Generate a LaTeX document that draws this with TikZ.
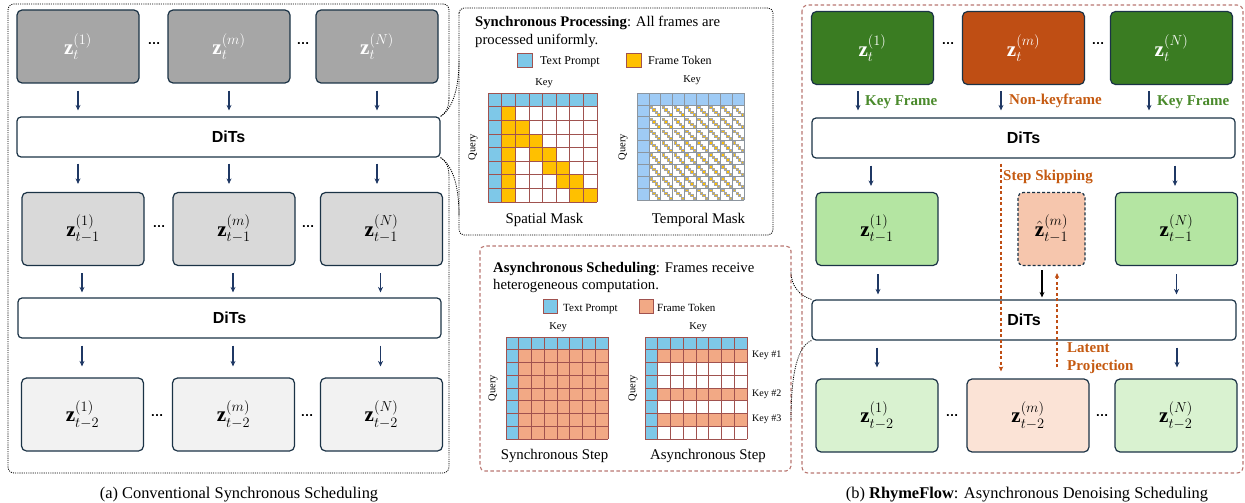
\documentclass[tikz,border=0pt]{standalone}
\usepackage{amsmath}
\usepackage{fontspec}
\setmainfont{Liberation Serif}
\newfontfamily\arialfont{Liberation Sans}
\usetikzlibrary{arrows.meta}
\definecolor{bd}{HTML}{1B3346}
\definecolor{navy}{HTML}{1F3864}
\definecolor{gA}{HTML}{A6A6A6}
\definecolor{gB}{HTML}{D9D9D9}
\definecolor{gC}{HTML}{F2F2F2}
\definecolor{dgreen}{HTML}{3A7C22}
\definecolor{dorange}{HTML}{BF4E14}
\definecolor{lgreen}{HTML}{B4E5A2}
\definecolor{llgreen}{HTML}{D9F2D0}
\definecolor{lorange}{HTML}{F6C6AD}
\definecolor{llorange}{HTML}{FBE3D6}
\definecolor{txgreen}{HTML}{4A8A2C}
\definecolor{txorange}{HTML}{C55A11}
\definecolor{sky}{HTML}{7EC8E8}
\definecolor{tblue}{HTML}{9FCBF5}
\definecolor{gold}{HTML}{FFC000}
\definecolor{salmon}{HTML}{F2A985}
\definecolor{cellb}{HTML}{A0524F}
\definecolor{tgrid}{HTML}{8C959E}
\definecolor{reddash}{HTML}{B97771}
\newcommand\zf{\fontsize{21}{24}\selectfont}
\newcommand\mygrid[5]{%
  \foreach \i in {0,...,#4} {%
    \draw[#5] ({#1+\i*#3},#2) -- ({#1+\i*#3},{#2+#4*#3});
    \draw[#5] (#1,{#2+\i*#3}) -- ({#1+#4*#3},{#2+\i*#3});
  }}
\newcommand\cellfill[6]{\fill[#6] ({#1+#4*#3},{#2+#5*#3}) rectangle ++(#3,#3);}
\tikzset{
  zframe/.style={draw=bd, line width=1.2pt, rounded corners=5pt, minimum width=122pt, minimum height=73pt, inner sep=0pt, font=\zf},
  dits/.style={draw=bd, line width=1.2pt, rounded corners=4pt, fill=white, minimum height=40pt, inner sep=0pt, font=\arialfont\bfseries\fontsize{16}{18}\selectfont},
  arr/.style={draw=navy, line width=1.1pt, -{Stealth[length=5.5pt,width=5pt]}},
  dotline/.style={draw=black, line width=0.8pt, dash pattern=on 1.1pt off 1.1pt},
  redbox/.style={draw=reddash, line width=1.1pt, dash pattern=on 3.5pt off 2.5pt},
  odash/.style={draw=dorange, line width=1.1pt, dash pattern=on 3pt off 2.5pt, -{Stealth[length=5pt,width=4.5pt]}},
  hdots/.style={font=\arialfont\bfseries\fontsize{13}{13}\selectfont, inner sep=0pt},
  lbl/.style={font=\bfseries\fontsize{15}{17}\selectfont, inner sep=0pt},
  ttl/.style={font=\fontsize{14.7}{17}\selectfont, inner sep=0pt, anchor=base west},
  leg/.style={font=\fontsize{12}{14}\selectfont, inner sep=0pt, anchor=base west},
  smalltxt/.style={font=\fontsize{10.5}{12}\selectfont, inner sep=0pt},
  masktxt/.style={font=\fontsize{14.8}{17}\selectfont, inner sep=0pt, anchor=base},
  captxt/.style={font=\fontsize{16.4}{18}\selectfont, inner sep=0pt, anchor=base},
}
\begin{document}
\begin{tikzpicture}[x=1pt,y=-1pt]
\useasboundingbox (0,0) rectangle (1245,503);

% ================= LEFT PANEL =================
\node[zframe, fill=gA, text=white] (L11) at (78,46.5) {$\mathbf{z}_{t}^{(1)}$};
\node[zframe, fill=gA, text=white] (L12) at (229,46.5) {$\mathbf{z}_{t}^{(m)}$};
\node[zframe, fill=gA, text=white] (L13) at (377,46.5) {$\mathbf{z}_{t}^{(N)}$};
\node[hdots] (Ld1) at (154,44) {…};
\node[hdots] (Ld2) at (303,44) {…};
\node[dits, minimum width=423pt] (LD1) at (228.5,137) {DiTs};
\node[zframe, fill=gB] (L21) at (83,229) {$\mathbf{z}_{t-1}^{(1)}$};
\node[zframe, fill=gB] (L22) at (234,229) {$\mathbf{z}_{t-1}^{(m)}$};
\node[zframe, fill=gB] (L23) at (381.5,229) {$\mathbf{z}_{t-1}^{(N)}$};
\node[hdots] (Ld3) at (159,227) {…};
\node[hdots] (Ld4) at (308,227) {…};
\node[dits, minimum width=423pt] (LD2) at (229.5,318) {DiTs};
\node[zframe, fill=gC] (L31) at (82.5,414.5) {$\mathbf{z}_{t-2}^{(1)}$};
\node[zframe, fill=gC] (L32) at (233.5,414.5) {$\mathbf{z}_{t-2}^{(m)}$};
\node[zframe, fill=gC] (L33) at (381.5,414.5) {$\mathbf{z}_{t-2}^{(N)}$};
\node[hdots] (Ld5) at (157,416) {…};
\node[hdots] (Ld6) at (307,416) {…};

\foreach \n in {1,2,3} {
  \draw[arr, shorten <=7pt, shorten >=6pt] (L1\n.south) -- (L1\n.south |- LD1.north);
  \draw[arr, shorten <=6pt, shorten >=8pt] (LD1.south -| L1\n.south) -- (L1\n.south |- L21.north);
  \draw[arr, shorten <=7pt, shorten >=5pt] (L2\n.south) ++(-1,0) coordinate (la\n) -- (la\n |- LD2.north);
  \draw[arr, shorten <=7pt, shorten >=11pt] (LD2.south -| la\n) -- (la\n |- L31.north);
}

% left panel outline with callouts
\draw[dotline, rounded corners=6pt] (449,98) -- (449,4) -- (8,4) -- (8,473) -- (449,473) -- (449,176);
\draw[dotline] (449,98) .. controls (449,110) and (444,114) .. (LD1.north east);
\draw[dotline] (LD1.north east) .. controls (454,108) and (459,85) .. (459,60);
\draw[dotline] (LD1.south east) .. controls (444,160) and (449,164) .. (449,176);
\draw[dotline] (LD1.south east) .. controls (454,166) and (459,190) .. (459,215);

\node[captxt] (capA) at (239,498) {(a) Conventional Synchronous Scheduling};

% ================= SYNC INSET =================
\draw[dotline, rounded corners=5pt] (459,8) rectangle (773,235);
\node[ttl] (st1) at (475,27) {\textbf{Synchronous Processing}: All frames are};
\node[ttl] (st2) at (475,45) {processed uniformly.};
\filldraw[fill=sky, draw=cellb, line width=0.6pt] (517,53) rectangle (532,67);
\node[leg] (sl1) at (540,65) {Text Prompt};
\filldraw[fill=gold, draw=cellb, line width=0.6pt] (626,53) rectangle (641,67);
\node[leg] (sl2) at (648,65) {Frame Token};
% spatial mask
\fill[white] (488,93) rectangle (597,200);
\foreach \c in {0,...,7} {\cellfill{488}{93}{13.625}{\c}{0}{sky}}
\foreach \r in {1,...,7} {\cellfill{488}{93}{13.625}{0}{\r}{sky}}
\foreach \r/\c in {1/1,2/1,2/2,3/1,3/2,3/3,4/1,4/3,4/4,5/1,5/4,5/5,6/1,6/5,6/6,7/1,7/6,7/7} {\cellfill{488}{93}{13.625}{\c}{\r}{gold}}
\mygrid{488}{93}{13.625}{8}{cellb, line width=0.7pt}
\node[smalltxt, anchor=base] (sk1) at (544,85) {Key};
\node[smalltxt, rotate=90] (sq1) at (473,147) {Query};
\node[masktxt] (sm1) at (544.5,223) {Spatial Mask};
% temporal mask
\fill[white] (637,93) rectangle (744,200);
\foreach \c in {0,...,8} {\cellfill{637}{93}{11.889}{\c}{0}{tblue}}
\foreach \r in {1,...,8} {\cellfill{637}{93}{11.889}{0}{\r}{tblue}}
\foreach \r in {1,...,8} {\foreach \c in {1,...,8} {\foreach \k in {0,...,3} {
  \filldraw[fill=gold, draw=black!35, line width=0.15pt] ({637+\c*11.889+1+\k*2.5},{93+\r*11.889+1+\k*2.5}) rectangle ++(2.4,2.4);
}}}
\mygrid{637}{93}{11.889}{9}{tgrid, line width=0.6pt}
\node[smalltxt, anchor=base] (sk2) at (692,82) {Key};
\node[smalltxt, rotate=90] (sq2) at (623,147) {Query};
\node[masktxt] (sm2) at (698.5,223) {Temporal Mask};

% ================= ASYNC INSET =================
\draw[redbox, rounded corners=5pt] (480,246) rectangle (791,471);
\node[ttl] (at1) at (493,272) {\textbf{Asynchronous Scheduling}: Frames receive};
\node[ttl] (at2) at (493,289) {heterogeneous computation.};
\filldraw[fill=sky, draw=cellb, line width=0.6pt] (543,299) rectangle (557,313);
\node[leg, font=\fontsize{11}{13}\selectfont] (al1) at (563,311) {Text Prompt};
\filldraw[fill=salmon, draw=cellb, line width=0.6pt] (639,299) rectangle (653,313);
\node[leg, font=\fontsize{11}{13}\selectfont] (al2) at (657,311) {Frame Token};
% synchronous step
\fill[salmon] (506,337) rectangle (608,439);
\foreach \c in {0,...,7} {\cellfill{506}{337}{12.75}{\c}{0}{sky}}
\foreach \r in {1,...,7} {\cellfill{506}{337}{12.75}{0}{\r}{sky}}
\mygrid{506}{337}{12.75}{8}{cellb, line width=0.7pt}
\node[smalltxt, anchor=base] (ak1) at (558,329) {Key};
\node[smalltxt, rotate=90] (aq1) at (493,388) {Query};
\node[masktxt] (as1) at (554.5,459) {Synchronous Step};
% asynchronous step
\fill[white] (645,337) rectangle (747,439);
\foreach \r in {1,4,6} {\foreach \c in {1,...,7} {\cellfill{645}{337}{12.75}{\c}{\r}{salmon}}}
\foreach \c in {0,...,7} {\cellfill{645}{337}{12.75}{\c}{0}{sky}}
\foreach \r in {1,...,7} {\cellfill{645}{337}{12.75}{0}{\r}{sky}}
\mygrid{645}{337}{12.75}{8}{cellb, line width=0.7pt}
\node[smalltxt, anchor=base] (ak2) at (698,329) {Key};
\node[smalltxt, rotate=90] (aq2) at (633,388) {Query};
\node[smalltxt, anchor=west, font=\fontsize{10}{12}\selectfont] (kk1) at (752,355) {Key \#1};
\node[smalltxt, anchor=west, font=\fontsize{10}{12}\selectfont] (kk2) at (752,394) {Key \#2};
\node[smalltxt, anchor=west, font=\fontsize{10}{12}\selectfont] (kk3) at (752,419) {Key \#3};
\node[masktxt] (as2) at (708,459) {Asynchronous Step};

% ================= RIGHT PANEL =================
\draw[redbox, rounded corners=6pt] (802,5) rectangle (1243,473);
\node[zframe, fill=dgreen, text=white] (R11) at (872.5,48) {$\mathbf{z}_{t}^{(1)}$};
\node[zframe, fill=dorange, text=white] (R12) at (1023.5,48) {$\mathbf{z}_{t}^{(m)}$};
\node[zframe, fill=dgreen, text=white] (R13) at (1171.5,48) {$\mathbf{z}_{t}^{(N)}$};
\node[hdots] (Rd1) at (948,44) {…};
\node[hdots] (Rd2) at (1098,44) {…};
\node[dits, minimum width=423pt] (RD1) at (1023.5,138) {DiTs};
\node[zframe, fill=lgreen] (R21) at (877,229) {$\mathbf{z}_{t-1}^{(1)}$};
\node[zframe, fill=lorange, minimum width=67pt, dash pattern=on 3pt off 2pt] (R22) at (1051.5,229) {$\hat{\mathbf{z}}_{t-1}^{(m)}$};
\node[zframe, fill=lgreen] (R23) at (1176.5,229) {$\mathbf{z}_{t-1}^{(N)}$};
\node[dits, minimum width=424pt] (RD2) at (1024,320) {DiTs};
\node[zframe, fill=llgreen] (R31) at (877,415.5) {$\mathbf{z}_{t-2}^{(1)}$};
\node[zframe, fill=llorange] (R32) at (1028,415.5) {$\mathbf{z}_{t-2}^{(m)}$};
\node[zframe, fill=llgreen] (R33) at (1176,415.5) {$\mathbf{z}_{t-2}^{(N)}$};
\node[hdots] (Rd3) at (952,416) {…};
\node[hdots] (Rd4) at (1102,416) {…};

% arrows top -> DiTs
\draw[arr, shorten <=6pt, shorten >=7pt] ([xshift=-14.5pt]R11.south) coordinate (ra1) -- (ra1 |- RD1.north);
\draw[arr, shorten <=6pt, shorten >=7pt] ([xshift=-22.5pt]R12.south) coordinate (ra2) -- (ra2 |- RD1.north);
\draw[arr, shorten <=6pt, shorten >=7pt] ([xshift=-22.5pt]R13.south) coordinate (ra3) -- (ra3 |- RD1.north);
\node[lbl, text=txgreen, anchor=west] (kf1) at (865,102) {Key Frame};
\node[lbl, text=txorange, anchor=west] (nkf) at (1009,101) {Non-keyframe};
\node[lbl, text=txgreen, anchor=west] (kf2) at (1157,102) {Key Frame};
% DiTs1 -> row 2
\draw[arr, shorten <=7pt, shorten >=6pt] (RD1.south -| R21.south) ++(-6,0) coordinate (rb1) -- (rb1 |- R21.north);
\draw[arr, shorten <=7pt, shorten >=6pt] (RD1.south -| R23.south) ++(-1.5,0) coordinate (rb3) -- (rb3 |- R23.north);
% row2 -> DiTs2
\draw[arr, shorten <=8pt, shorten >=5pt] (R21.south) ++(1,0) coordinate (rc1) -- (rc1 |- RD2.north);
\draw[arr, shorten <=8pt, shorten >=5pt] (R23.south) coordinate (rc3) -- (rc3 |- RD2.north);
\draw[draw=black, line width=1.1pt, -{Stealth[length=5.5pt,width=5pt]}, shorten <=4pt, shorten >=2pt] ([xshift=-9.5pt]R22.south) coordinate (rc2) -- (rc2 |- RD2.north);
% DiTs2 -> row3
\draw[arr, shorten <=7pt, shorten >=11pt] (RD2.south -| R31.south) coordinate (rd1) -- (rd1 |- R31.north);
\draw[arr, shorten <=7pt, shorten >=11pt] (RD2.south -| R33.south) ++(1,0) coordinate (rd3) -- (rd3 |- R31.north);
% step skipping / latent projection
\draw[odash, shorten <=5pt, shorten >=7pt] (RD1.south) ++(-22.5,0) coordinate (ss) -- (ss |- R32.north);
\node[lbl, text=txorange, anchor=west] (ssl) at (1003,177) {Step Skipping};
\draw[odash, shorten <=11pt, shorten >=7pt] (R32.north) ++(29,0) coordinate (lp) -- (lp |- R22.south);
\node[lbl, text=txorange, anchor=north west, align=left, font=\bfseries\fontsize{15}{18}\selectfont] (lpl) at (1067,342) {Latent\\Projection};

% callouts to async inset
\draw[dotline] (RD2.north west) .. controls (800,296) and (791,286) .. (791,272);
\draw[dotline] (RD2.south west) .. controls (798,346) and (791,372) .. (791,420);

\node[captxt] (capB) at (1027,498) {(b) \textbf{RhymeFlow}: Asynchronous Denoising Scheduling};
\end{tikzpicture}
\end{document}
